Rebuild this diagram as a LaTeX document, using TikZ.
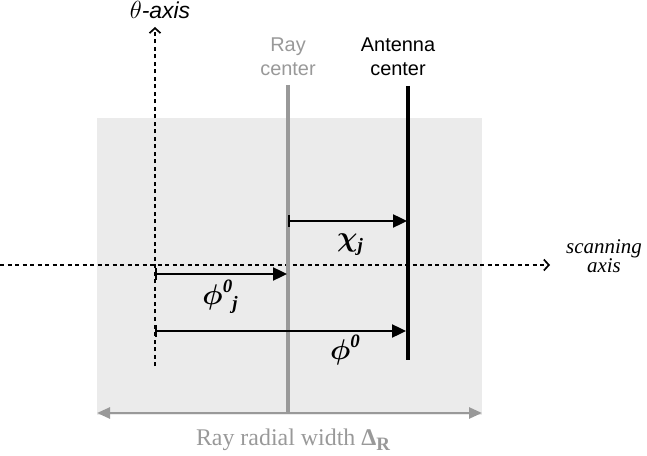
\documentclass[tikz,border=0pt]{standalone}
\usepackage{amsmath}
\usepackage{amssymb}
\usepackage{fontspec}
\setmainfont{Liberation Serif}
\newfontfamily\helv{Liberation Sans}
\usetikzlibrary{arrows.meta, positioning, calc}
\definecolor{raygray}{HTML}{999999}
\definecolor{bandgray}{HTML}{EBEBEB}
\newcommand{\lowj}[1]{\raisebox{-0.22em}{\fontsize{19}{19}\selectfont #1}}
\newcommand{\highz}[1]{\raisebox{0.5em}{\fontsize{19}{19}\selectfont #1}}
\newcommand{\bigsym}[1]{\scalebox{1.15}{$\boldsymbol{#1}$}}
\tikzstyle{axisline} = [line width=1.7bp, dash pattern=on 4bp off 3.5bp, -{Straight Barb[length=5bp,width=11bp,line width=1.7bp]}]
\tikzstyle{dimarrow} = [line width=2.4bp, {Bar[width=12bp,line width=1.6bp]}-{Triangle[length=14bp,width=13bp]}]
\tikzstyle{toplabel} = [font=\helv\fontsize{20}{24}\selectfont, align=center, inner sep=0pt]
\tikzstyle{symlabel} = [font=\fontsize{24}{28}\selectfont\bfseries\itshape, inner sep=0pt]

\begin{document}
\begin{tikzpicture}[x=1bp, y=-1bp]
    \useasboundingbox (0,0) rectangle (647,456);

    % Bande grise
    \fill[bandgray] (97,118) rectangle (482,415);

    % Axes
    \coordinate (thetabot) at (155,366);
    \node (thetalbl) [font=\helv\itshape\fontsize{23}{26}\selectfont, inner sep=1pt] at (160,10) {$\theta$-axis};
    \draw [axisline] (thetabot) -- (155,27);

    \coordinate (scanleft) at (0,265);
    \node (scanlbl) [font=\itshape\fontsize{21}{17}\selectfont, align=center, inner sep=0pt] at (604,256) {scanning\\axis};
    \draw [axisline] (scanleft) -- (550,265);

    % Centres
    \node (raylbl) [toplabel, text=raygray] at (288,57) {Ray\\center};
    \node (antlbl) [toplabel] at (398,57) {Antenna\\center};
    \coordinate (raytop) at (288,85);
    \coordinate (raybot) at (288,414);
    \coordinate (anttop) at (408,86);
    \coordinate (antbot) at (408,360);
    \draw [raygray, line width=3.8bp] (raytop) -- (raybot);
    \draw [black, line width=4.2bp] (anttop) -- (antbot);

    % Distances
    \draw [dimarrow] (288,221) -- (407,221);
    \node (chilbl) [symlabel] at (350,245) {\bigsym{\chi}\lowj{j}};

    \draw [dimarrow] (155,274) -- (287,274);
    \node (phijlbl) [symlabel] at (220,297) {\bigsym{\phi}\highz{0}\lowj{j}};

    \draw [dimarrow] (155,331) -- (406,331);
    \node (philbl) [symlabel] at (345,350) {\bigsym{\phi}\highz{0}};

    % Largeur radiale
    \draw [raygray, line width=2.5bp, {Triangle[length=13bp,width=11bp]}-{Triangle[length=13bp,width=11bp]}] (97,413) -- (482,413);
    \node (widthlbl) [text=raygray, font=\fontsize{24}{26}\selectfont, inner sep=0pt] at (293,440) {Ray radial width {\bfseries Δ\lowj{R}}};
\end{tikzpicture}
\end{document}
